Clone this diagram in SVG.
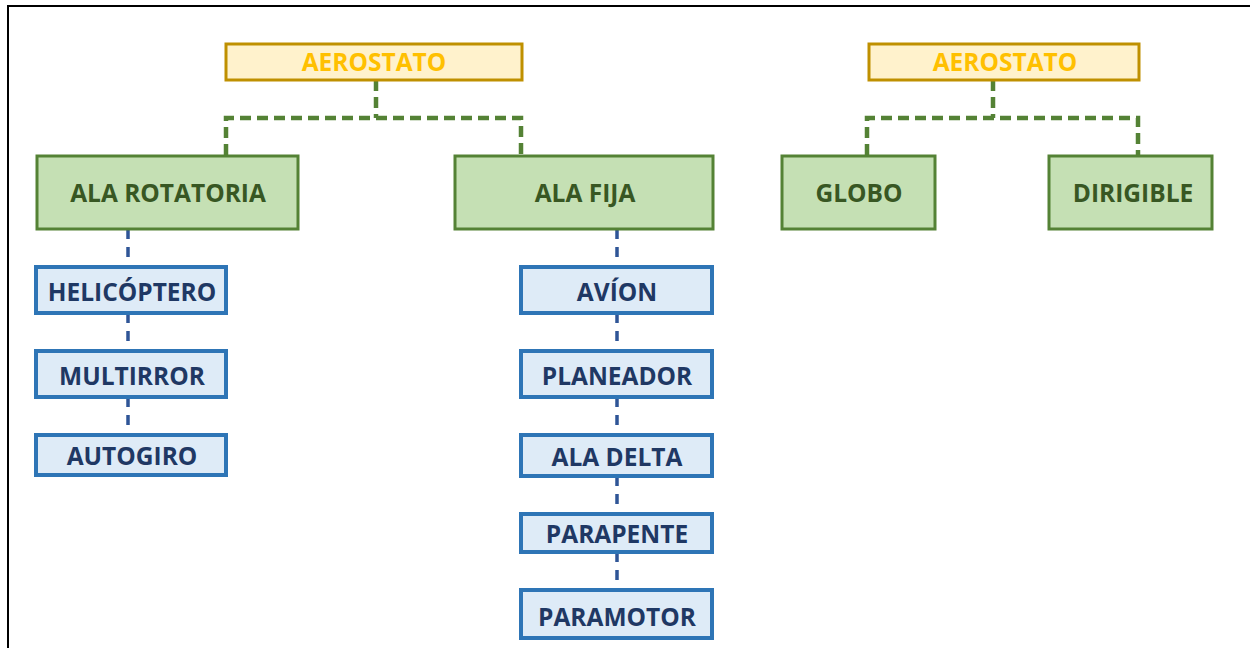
<svg xmlns="http://www.w3.org/2000/svg" width="1250" height="648" viewBox="0 0 1250 648">
<style>
.t{font-family:"Open Sans","Noto Sans","Liberation Sans",sans-serif;font-weight:bold;font-size:24.5px;text-anchor:middle}
.y rect{fill:#FFF2CC;stroke:#BF9000;stroke-width:3}
.y text{fill:#FFC000}
.g rect{fill:#C5E0B4;stroke:#548235;stroke-width:3}
.g text{fill:#385723}
.b rect{fill:#DEEBF7;stroke:#2E75B6;stroke-width:4}
.b text{fill:#1F3864}
.cg{fill:none;stroke:#548235;stroke-width:4.5;stroke-dasharray:11 6}
.cb{fill:none;stroke:#2F5597;stroke-width:3.5;stroke-dasharray:10 8}
</style>
<rect x="8" y="6" width="1300" height="700" fill="#fff" stroke="#000" stroke-width="2"/>
<g id="connectors">
<path class="cg" d="M376 80V118M226 155V118H521V155"/>
<path class="cg" d="M993 80V118M867 155V118H1138V155"/>
<path class="cb" d="M128 229V267M128 313V351M128 397V435"/>
<path class="cb" d="M617 229V267M617 313V351M617 397V435M617 476V513M617 552V590"/>
</g>
<g id="aerostato1" class="y t"><rect x="226" y="44" width="296" height="36"/><text x="374" y="71">AEROSTATO</text></g>
<g id="aerostato2" class="y t"><rect x="869" y="44" width="270" height="36"/><text x="1005" y="71">AEROSTATO</text></g>
<g id="alarotatoria" class="g t"><rect x="37" y="156" width="261" height="73"/><text x="168" y="202">ALA ROTATORIA</text></g>
<g id="alafija" class="g t"><rect x="455" y="156" width="258" height="73"/><text x="585" y="202">ALA FIJA</text></g>
<g id="globo" class="g t"><rect x="782" y="156" width="153" height="73"/><text x="859" y="202">GLOBO</text></g>
<g id="dirigible" class="g t"><rect x="1049" y="156" width="163" height="73"/><text x="1133" y="202">DIRIGIBLE</text></g>
<g id="helicoptero" class="b t"><rect x="36" y="267" width="190" height="46"/><text x="132" y="301">HELICÓPTERO</text></g>
<g id="multirror" class="b t"><rect x="36" y="351" width="190" height="46"/><text x="132" y="385">MULTIRROR</text></g>
<g id="autogiro" class="b t"><rect x="36" y="435" width="190" height="40"/><text x="132" y="465">AUTOGIRO</text></g>
<g id="avion" class="b t"><rect x="521" y="267" width="191" height="46"/><text x="617" y="301">AVÍON</text></g>
<g id="planeador" class="b t"><rect x="521" y="351" width="191" height="46"/><text x="617" y="385">PLANEADOR</text></g>
<g id="aladelta" class="b t"><rect x="521" y="435" width="191" height="41"/><text x="617" y="466">ALA DELTA</text></g>
<g id="parapente" class="b t"><rect x="521" y="514" width="191" height="38"/><text x="617" y="543">PARAPENTE</text></g>
<g id="paramotor" class="b t"><rect x="521" y="590" width="191" height="48"/><text x="617" y="626">PARAMOTOR</text></g>
</svg>
